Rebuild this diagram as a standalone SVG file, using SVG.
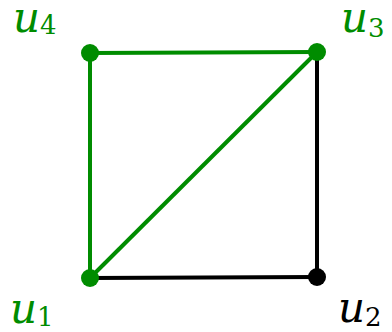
<svg xmlns="http://www.w3.org/2000/svg" width="392" height="332" viewBox="0 0 392 332">
<style>
.g{stroke:#008c00;stroke-width:4;fill:none}
.k{stroke:#000;stroke-width:4;fill:none}
.lbl{font-family:"DejaVu Serif","Liberation Serif",serif;font-style:italic;font-size:42px}
.sub{font-family:"DejaVu Serif","Liberation Serif",serif;font-size:26px;font-style:normal}
</style>
<g id="connectors">
<line class="k" x1="317" y1="52" x2="317" y2="277"/>
<line class="k" x1="90" y1="278" x2="317" y2="277"/>
<line class="g" x1="90" y1="53" x2="317" y2="52"/>
<line class="g" x1="90" y1="53" x2="90" y2="278"/>
<line class="g" x1="90" y1="278" x2="317" y2="52"/>
</g>
<g id="u1"><circle cx="90" cy="278" r="9" fill="#008c00"/><text x="10" y="323" class="lbl" fill="#008c00">u<tspan class="sub" dy="3">1</tspan></text></g>
<g id="u2"><circle cx="317" cy="277" r="9" fill="#000"/><text x="338" y="322" class="lbl" fill="#000">u<tspan class="sub" dy="4">2</tspan></text></g>
<g id="u3"><circle cx="317" cy="52" r="9" fill="#008c00"/><text x="341" y="32" class="lbl" fill="#008c00">u<tspan class="sub" dy="5">3</tspan></text></g>
<g id="u4"><circle cx="90" cy="53" r="9" fill="#008c00"/><text x="13" y="32" class="lbl" fill="#008c00">u<tspan class="sub" dy="2">4</tspan></text></g>
</svg>
